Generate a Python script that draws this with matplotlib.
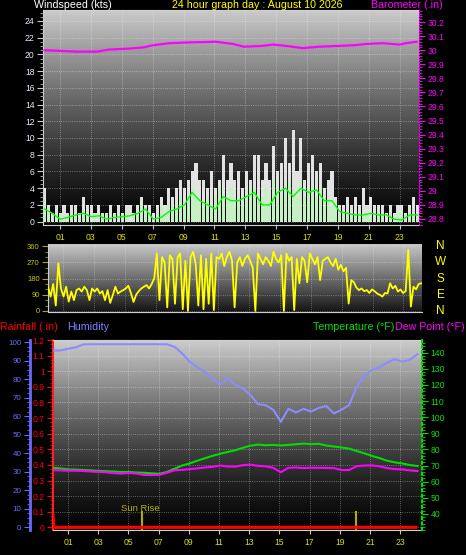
import numpy as np
import matplotlib
matplotlib.use("Agg")
import matplotlib.pyplot as plt
from matplotlib.ticker import MultipleLocator

plt.rcParams['font.family'] = ['Liberation Sans', 'DejaVu Sans']

# ---------------- data ----------------
hour_ticks = [1, 3, 5, 7, 9, 11, 13, 15, 17, 19, 21, 23]
hour_labels = ['01', '03', '05', '07', '09', '11', '13', '15', '17', '19', '21', '23']

baro_hours = [0.0, 2.1, 3.4, 4.2, 5.3, 6.4, 7.0, 8.1, 9.2, 11.1, 12.2, 12.9, 14.0, 14.8,
              15.7, 16.7, 17.8, 18.9, 20.0, 20.9, 21.9, 23.0, 23.4, 24.1]
baro_values = [30.00, 29.99, 29.99, 30.005, 30.01, 30.02, 30.035, 30.05, 30.055, 30.06,
               30.045, 30.025, 30.03, 30.04, 30.03, 30.015, 30.025, 30.03, 30.035, 30.045,
               30.05, 30.04, 30.05, 30.06]

wind_gust = [4, 2, 1, 2, 1, 2, 1, 2, 2, 1, 3, 2, 2, 1, 2, 1, 1, 2, 1, 2, 1, 2, 2, 1,
             2, 3, 2, 2, 1, 2, 3, 2, 4, 3, 4, 5, 4, 5, 6, 7, 5, 5, 4, 6, 4, 5, 8, 5,
             7, 5, 6, 4, 6, 5, 8, 8, 5, 7, 5, 9, 6, 7, 10, 7, 11, 6, 10, 5, 7, 8, 6, 7,
             4, 5, 6, 3, 2, 2, 3, 2, 3, 2, 4, 2, 3, 2, 2, 2, 1, 2, 1, 2, 2, 1, 2, 3, 2]
wind_speed = [2, 1, 0, 1, 1, 0, 1, 1,
              1, 0, 1, 1, 0, 1, 0, 1,
              1, 0, 1, 0, 1, 1, 0, 1,
              1, 2, 1, 1, 0, 1, 2, 1,
              2, 2, 2, 3, 2, 3, 4, 3,
              3, 2, 3, 2, 3, 4, 3, 3,
              4, 3, 3, 2, 3, 4, 4, 3,
              3, 4, 3, 5, 4, 3, 4, 5,
              4, 3, 5, 3, 4, 4, 3, 4,
              3, 3, 2, 2, 1, 1, 1, 1,
              1, 1, 1, 1, 1, 0, 1, 1,
              0, 1, 0, 1, 1, 0, 1, 1, 1]
wind_avg = [1.5, 1.0, 0.3, 0.5, 0.8, 1.0, 0.6, 0.7, 0.3, 0.5, 0.6, 0.7, 1.0, 1.5, 0.3, 0.5,
            1.2, 1.5, 2.0, 3.5, 2.5, 2.0, 1.5, 3.0, 2.5, 2.5, 3.0, 3.5, 2.0, 2.0, 3.5, 4.0,
            3.0, 4.0, 3.5, 3.8, 2.5, 2.5, 1.2, 1.0, 0.8, 0.8, 1.0, 0.8, 0.8, 0.3, 0.2, 0.8, 0.8]

wind_dir = [135, 80, 150, 30, 266, 125,
            80, 135, 52, 108, 60, 116,
            125, 108, 135, 116, 60, 125,
            108, 125, 97, 110, 60, 116,
            45, 88, 135, 97, 108, 116,
            125, 140, 100, 50, 90, 110,
            125, 135, 144, 125, 150, 182,
            320, 60, 300, 270, 20, 310,
            290, 40, 300, 320, 10, 280,
            0, 300, 330, 260, 30, 310,
            10, 290, 40, 320, 5, 300,
            290, 320, 250, 300, 330, 280,
            20, 270, 300, 250, 290, 310,
            280, 240, 0, 320, 290, 260,
            300, 280, 250, 330, 290, 270,
            310, 0, 320, 280, 300, 5,
            290, 154, 300, 280, 160, 320,
            290, 260, 300, 172, 280, 290,
            300, 270, 250, 290, 230, 257,
            221, 240, 41, 172, 160, 130,
            116, 125, 110, 116, 100, 120,
            110, 97, 90, 80, 100, 97,
            154, 125, 140, 108, 120, 100,
            110, 341, 24, 135, 120, 150,
            154]

humidity = [95.5, 95.5, 96.5, 97.2, 98.8, 98.9, 98.9, 98.9, 98.9, 98.9, 98.9, 98.9, 98.9, 98.9, 98.9, 98.9,
            97.5, 94.0, 89.5, 86.5, 84.0, 80.5, 77.0, 80.5, 77.0, 75.0, 71.5, 66.5, 66.0, 63.5, 57.0, 64.0,
            62.0, 64.0, 62.5, 64.5, 65.5, 61.5, 63.5, 66.0, 76.0, 82.0, 85.0, 86.5, 89.0, 90.8, 89.5, 90.5,
            93.5]
temperature = [68.6, 68.2, 67.6, 67.5, 67.2, 67.0, 66.7, 66.5, 66.3, 66.0, 66.0, 65.7, 65.5, 65.2, 64.9, 66.0,
               68.0, 70.0, 71.3, 73.0, 74.5, 76.0, 77.3, 78.4, 79.5, 81.0, 82.3, 83.0, 82.6, 82.8, 82.5, 82.8,
               83.2, 83.6, 83.3, 83.5, 82.4, 81.8, 81.2, 80.5, 79.0, 77.6, 76.0, 74.6, 73.0, 72.0, 71.3, 70.3,
               69.7]
dew_point = [67.2, 67.0, 66.8, 66.8, 66.6, 66.3, 66.0, 65.8, 65.3, 65.0, 65.4, 65.0, 64.2, 64.1, 64.2, 65.5,
             67.0, 67.3, 67.8, 68.2, 68.8, 69.2, 70.0, 69.4, 69.3, 70.2, 70.6, 69.8, 69.5, 68.6, 65.8, 68.6,
             68.8, 68.4, 68.6, 68.6, 68.5, 68.4, 67.2, 67.2, 69.6, 70.0, 70.1, 69.5, 68.4, 67.8, 67.6, 67.0,
             66.6]

rain_hours = [0.0, 0.05, 24.15]
rain_values = [0.09, 0.0, 0.0]

sun_hours = [5.88, 20.1]

# ---------------- figure ----------------
W, H = 466, 555
fig = plt.figure(figsize=(W / 100, H / 100), dpi=100, facecolor='black')


def px_axes(x0, y0, x1, y1):
    return fig.add_axes([x0 / W, 1 - y1 / H, (x1 - x0) / W, (y1 - y0) / H])


def gradient(ax, xl, yl, top=0.80, bottom=0.02, power=1.3):
    t = np.linspace(1, 0, 256) ** power
    g = bottom + (top - bottom) * t
    ax.imshow(g[:, None], cmap='gray', vmin=0, vmax=1, aspect='auto',
              extent=[xl[0], xl[1], yl[0], yl[1]], zorder=0, interpolation='bilinear')
    ax.set_xlim(*xl)
    ax.set_ylim(*yl)


TICKFS = 6.2
XLAB = '#d8e000'

# ---------- top panel: wind speed + barometer ----------
ax1 = px_axes(43, 10, 419, 225)
xl1 = (-0.1, 24.25)
yl1 = (-0.4, 25.3)
gradient(ax1, xl1, yl1)
xg = np.linspace(0, 24.15, len(wind_gust))
ax1.bar(xg, wind_gust, width=0.2, color='#e2e2e2', zorder=2, linewidth=0)
xs = np.linspace(0, 24.15, len(wind_speed))
ax1.bar(xs, wind_speed, width=0.2, color='#c4f0c4', zorder=3, linewidth=0)
xa = np.linspace(0, 24.15, len(wind_avg))
ax1.plot(xa, wind_avg, color='#00ff00', lw=1.0, zorder=4)
ax1.set_yticks(range(0, 25, 2))
ax1.yaxis.set_minor_locator(MultipleLocator(0.5))
ax1.tick_params(axis='y', which='major', colors='#c8c8c8', labelcolor='#e8e8ff',
                labelsize=TICKFS, length=4, pad=2)
ax1.tick_params(axis='y', which='minor', colors='#b0b0b0', length=2)
ax1.set_xticks(hour_ticks)
ax1.set_xticklabels(hour_labels)
ax1.tick_params(axis='x', colors='#c8c8c8', labelcolor=XLAB, labelsize=TICKFS, length=3, pad=3)
ax1.grid(True, which='major', color='white', linestyle=':', linewidth=0.6, alpha=0.45)
ax1.set_axisbelow(False)
for s in ['top', 'left', 'bottom']:
    ax1.spines[s].set_color('#d0d0d0')
ax1.spines['right'].set_visible(False)

ax1b = ax1.twinx()
ax1b.set_xlim(*xl1)
ax1b.plot(baro_hours, baro_values, color='#ff00ff', lw=1.6, zorder=5)
ax1b.set_ylim(28.757, 30.286)
bt = [28.8, 28.9, 29.0, 29.1, 29.2, 29.3, 29.4, 29.5, 29.6, 29.7, 29.8, 29.9, 30.0, 30.1, 30.2]
ax1b.set_yticks(bt)
ax1b.set_yticklabels([('%g' % v) for v in bt])
ax1b.yaxis.set_minor_locator(MultipleLocator(0.02))
ax1b.tick_params(axis='y', which='major', colors='#ff00ff', labelsize=TICKFS, length=4, pad=2)
ax1b.tick_params(axis='y', which='minor', colors='#ff00ff', length=2)
for s in ['top', 'left', 'bottom']:
    ax1b.spines[s].set_visible(False)
ax1b.spines['right'].set_color('#ff00ff')
ax1b.spines['right'].set_linestyle(':')

# ---------- middle panel: wind direction ----------
ax2 = px_axes(48, 244, 422, 312)
xl2 = (0, 24.2)
yl2 = (-6, 373)
gradient(ax2, xl2, yl2, top=0.78, bottom=0.08, power=1.0)
xd = np.linspace(0, 24.15, len(wind_dir))
ax2.plot(xd, wind_dir, color='#ffff00', lw=1.3, zorder=3)
ax2.set_yticks([0, 90, 180, 270, 360])
ax2.yaxis.set_minor_locator(MultipleLocator(30))
ax2.tick_params(axis='y', which='major', colors='#a8a800', labelcolor='#c8c800',
                labelsize=5.5, length=4, pad=2)
ax2.tick_params(axis='y', which='minor', colors='#a8a800', length=2)
ax2.set_xticks(hour_ticks)
ax2.tick_params(axis='x', length=0, labelbottom=False)
ax2.grid(True, which='major', color='white', linestyle=':', linewidth=0.6, alpha=0.4)
for s in ax2.spines.values():
    s.set_color('#d0d0d0')
ax2.spines['right'].set_visible(False)
ax2.spines['top'].set_visible(False)
for lab, v in zip(['N', 'W', 'S', 'E', 'N'], [360, 270, 180, 90, 0]):
    ax2.text(1.05, v, lab, transform=ax2.get_yaxis_transform(), color='#ffff00',
             fontsize=8.5, ha='center', va='center')

# ---------- bottom panel ----------
ax3 = px_axes(53, 340, 422, 530)
xl3 = (0, 24.45)
yl3 = (-0.017, 1.2)
gradient(ax3, xl3, yl3, top=0.80, bottom=0.02, power=1.4)
ax3.plot(rain_hours, rain_values, color='#ff0000', lw=2.2, zorder=6, solid_capstyle='butt')
for sh in sun_hours:
    ax3.plot([sh, sh], [-0.02, 0.1], color='#b4aa00', lw=1.5, zorder=5)
ax3.text(5.77, 0.123, 'Sun Rise', color='#b4b000', fontsize=6.8, ha='center', va='center', zorder=6)
rt = [round(0.1 * i, 1) for i in range(13)]
ax3.set_yticks(rt)
ax3.set_yticklabels([('%g' % v) for v in rt])
ax3.yaxis.set_minor_locator(MultipleLocator(0.025))
ax3.tick_params(axis='y', which='major', colors='#ff0000', labelsize=TICKFS, length=4, pad=2)
ax3.tick_params(axis='y', which='minor', colors='#ff0000', length=2)
ax3.set_xticks(hour_ticks)
ax3.set_xticklabels(hour_labels)
ax3.tick_params(axis='x', colors='#c8c8c8', labelcolor=XLAB, labelsize=TICKFS, length=3, pad=3)
ax3.grid(True, which='major', color='white', linestyle=':', linewidth=0.6, alpha=0.45)
ax3.spines['left'].set_color('#ff2020')
ax3.spines['left'].set_linestyle((0, (3, 1)))
ax3.spines['left'].set_linewidth(1.5)
ax3.spines['bottom'].set_color('#d0d0d0')
ax3.spines['top'].set_color('#d0d0d0')
ax3.spines['right'].set_visible(False)

ax3h = ax3.twinx()
ax3h.set_xlim(*xl3)
xh = np.linspace(0, 24.15, len(humidity))
ax3h.plot(xh, humidity, color='#8c8cff', lw=1.5, zorder=4)
ax3h.set_ylim(-1.5, 101.2)
ax3h.yaxis.set_ticks_position('left')
ax3h.yaxis.set_label_position('left')
ax3h.spines['left'].set_position(('outward', 16.6))
ax3h.spines['left'].set_visible(True)
ax3h.spines['left'].set_color('#6a6aff')
ax3h.spines['left'].set_linewidth(2)
for s in ['top', 'bottom', 'right']:
    ax3h.spines[s].set_visible(False)
ax3h.set_yticks(range(0, 101, 10))
ax3h.yaxis.set_minor_locator(MultipleLocator(2.5))
ax3h.tick_params(axis='y', which='major', colors='#6a6aff', labelsize=TICKFS - 0.4, length=4, pad=2)
ax3h.tick_params(axis='y', which='minor', colors='#6a6aff', length=2)

ax3t = ax3.twinx()
ax3t.set_xlim(*xl3)
xt = np.linspace(0, 24.15, len(temperature))
ax3t.plot(xt, temperature, color='#00dd00', lw=1.5, zorder=4)
ax3t.plot(xt, dew_point, color='#ff00ff', lw=1.5, zorder=5)
ax3t.set_ylim(30, 147.9)
ax3t.set_yticks(range(40, 141, 10))
ax3t.yaxis.set_minor_locator(MultipleLocator(2))
ax3t.tick_params(axis='y', which='major', colors='#00e000', labelsize=TICKFS, length=4, pad=2)
ax3t.tick_params(axis='y', which='minor', colors='#00e000', length=2)
for s in ['top', 'bottom', 'left']:
    ax3t.spines[s].set_visible(False)
ax3t.spines['right'].set_color('#00e000')
ax3t.spines['right'].set_linestyle(':')
ax3t.spines['right'].set_linewidth(1.5)

# ---------- titles ----------
TFS = 7.7


def ftext(x, y, s, c, ha='left'):
    fig.text(x / W, 1 - y / H, s, color=c, fontsize=TFS, ha=ha, va='center')


ftext(34, 5, 'Windspeed (kts)', 'white')
ftext(172, 5, '24 hour graph day : August 10 2026', '#ffff00')
ftext(371, 5, 'Barometer (.in)', '#ff00ff')
ftext(0, 327, 'Rainfall (.in)', '#ff0000')
ftext(67, 327, 'Humidity', '#8080ff')
ftext(313, 327, 'Temperature (°F)', '#00e000')
ftext(395, 327, 'Dew Point (°F)', '#ff00ff')

fig.savefig('out.png', dpi=100, facecolor='black')
